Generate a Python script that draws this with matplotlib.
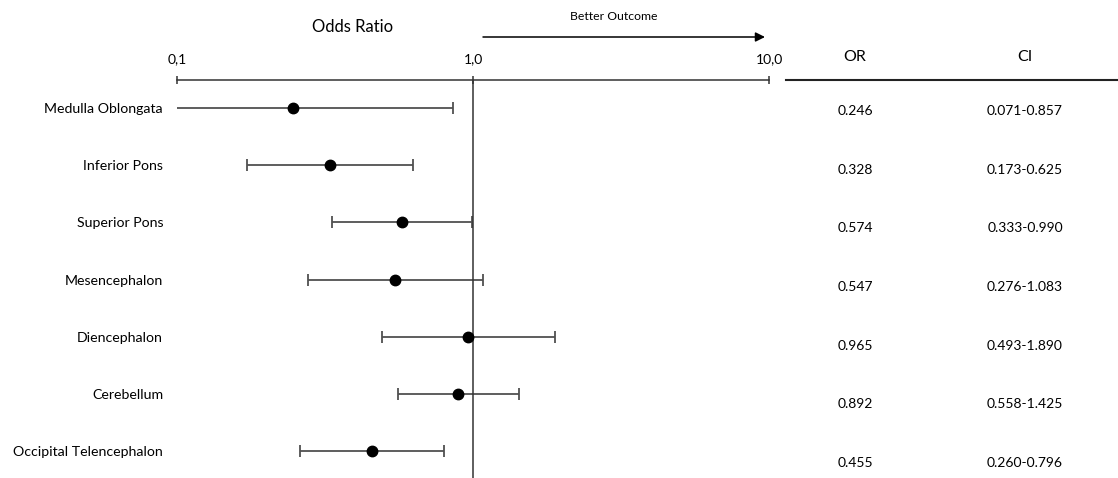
import matplotlib.pyplot as plt

plt.rcParams['font.family'] = ['Lato', 'DejaVu Sans']

regions = ["Medulla Oblongata", "Inferior Pons", "Superior Pons", "Mesencephalon",
           "Diencephalon", "Cerebellum", "Occipital Telencephalon"]
odds = [0.246, 0.328, 0.574, 0.547, 0.965, 0.892, 0.455]
ci_low = [0.071, 0.173, 0.333, 0.276, 0.493, 0.558, 0.260]
ci_high = [0.857, 0.625, 0.990, 1.083, 1.890, 1.425, 0.796]
or_labels = ["0.246", "0.328", "0.574", "0.547", "0.965", "0.892", "0.455"]
ci_labels = ["0.071-0.857", "0.173-0.625", "0.333-0.990", "0.276-1.083",
             "0.493-1.890", "0.558-1.425", "0.260-0.796"]
x_ticks = [0.1, 1.0, 10.0]
x_ticklabels = ["0,1", "1,0", "10,0"]

W, H = 1118, 478
fig = plt.figure(figsize=(W / 100, H / 100), dpi=100)

# forest plot axes
ax = fig.add_axes([177 / W, 0, (769 - 177) / W, (H - 80) / H])
ax.set_xscale('log')
ax.set_xlim(0.1, 10)
ax.set_ylim(6.47, -0.49)
rows = list(range(len(regions)))

err = [[o - l for o, l in zip(odds, ci_low)], [h - o for o, h in zip(odds, ci_high)]]
ax.errorbar(odds, rows, xerr=err, fmt='o', color='black', ms=7.5,
            ecolor='#505050', elinewidth=1.3, capsize=4, capthick=1.3)
ax.axvline(1.0, color='#333333', lw=1.1)

for s in ['left', 'right', 'bottom']:
    ax.spines[s].set_visible(False)
ax.spines['top'].set_color('#333333')
ax.spines['top'].set_linewidth(1.1)
ax.xaxis.set_ticks_position('top')
ax.set_xticks(x_ticks)
ax.set_xticklabels(x_ticklabels)
ax.minorticks_off()
ax.tick_params(axis='x', direction='inout', length=6, width=1.1, color='#333333',
               labelsize=10, pad=8)
ax.set_yticks(rows)
ax.set_yticklabels(regions)
ax.tick_params(axis='y', length=0, labelsize=10.2, pad=10)

# headers and arrow
fig.text(353 / W, 1 - 27 / H, "Odds Ratio", ha='center', va='center', fontsize=12)
fig.text(614 / W, 1 - 17 / H, "Better Outcome", ha='center', va='center', fontsize=8.8)
ax.annotate("", xy=(765 / W, 1 - 37 / H), xytext=(483 / W, 1 - 37 / H),
            xycoords='figure fraction', textcoords='figure fraction',
            arrowprops=dict(arrowstyle='-|>', color='black', lw=1.1,
                            mutation_scale=14, shrinkA=0, shrinkB=0))

# table axes
tab = fig.add_axes([786 / W, 0, (W - 786) / W, (H - 80) / H])
tab.set_xlim(0, 1)
tab.set_ylim(6.256, -0.528)
tab.set_xticks([])
tab.set_yticks([])
for s in ['left', 'right', 'bottom']:
    tab.spines[s].set_visible(False)
tab.spines['top'].set_linewidth(1.5)
tab.spines['top'].set_color('#222222')
or_x = (855 - 786) / (W - 786)
ci_x = (1025 - 786) / (W - 786)
tab.text(or_x, -0.92, "OR", ha='center', va='center', fontsize=11.5)
tab.text(ci_x, -0.92, "CI", ha='center', va='center', fontsize=11.5)
for i in rows:
    tab.text(or_x, i, or_labels[i], ha='center', va='center', fontsize=10)
    tab.text(ci_x, i, ci_labels[i], ha='center', va='center', fontsize=10)

fig.savefig("out.png", dpi=100)
